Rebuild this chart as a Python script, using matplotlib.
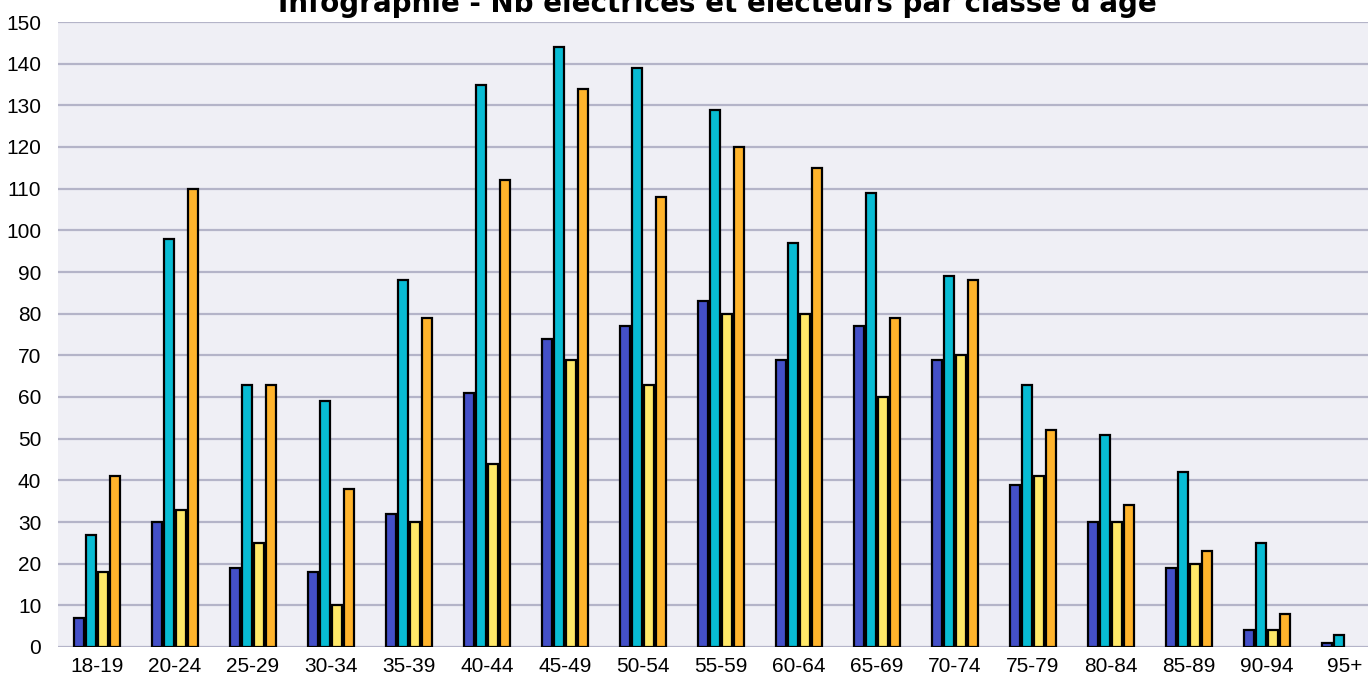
import matplotlib
matplotlib.use("Agg")
import matplotlib.pyplot as plt
import numpy as np

categories = ["18-19", "20-24", "25-29", "30-34", "35-39", "40-44", "45-49", "50-54",
              "55-59", "60-64", "65-69", "70-74", "75-79", "80-84", "85-89", "90-94", "95+"]
serie_bleu = [7, 30, 19, 18, 32, 61, 74, 77, 83, 69, 77, 69, 39, 30, 19, 4, 1]
serie_cyan = [27, 98, 63, 59, 88, 135, 144, 139, 129, 97, 109, 89, 63, 51, 42, 25, 3]
serie_jaune = [18, 33, 25, 10, 30, 44, 69, 63, 80, 80, 60, 70, 41, 30, 20, 4, 0]
serie_orange = [41, 110, 63, 38, 79, 112, 134, 108, 120, 115, 79, 88, 52, 34, 23, 8, 0]
yticks = list(range(0, 151, 10))
title = "Infographie - Nb électrices et électeurs par classe d'âge"

series = [serie_bleu, serie_cyan, serie_jaune, serie_orange]
colors = ["#4450C8", "#08BCD4", "#FFE868", "#FFB42C"]

W, H = 1368, 681
fig = plt.figure(figsize=(W / 100, H / 100), dpi=100)
left_px, right_px, bottom_px, top_px = 58, 1384, 647, 22
ax = fig.add_axes([left_px / W, (H - bottom_px) / H, (right_px - left_px) / W, (bottom_px - top_px) / H])
ax.set_facecolor("#EFEFF5")

x = np.arange(len(categories))
pitch = 0.154
width = 0.125
offsets = (np.arange(4) - 1.5) * pitch
for s, c, off in zip(series, colors, offsets):
    vals = np.array(s, dtype=float)
    lw = np.where(vals > 0, 1.6, 0.0)
    ax.bar(x + off, vals, width=width, color=c, edgecolor="black", linewidth=lw, zorder=3)

ax.set_xlim(-0.5, len(categories) - 0.5)
ax.set_ylim(0, 150)
ax.set_yticks(yticks)
ax.set_xticks(x)
ax.set_xticklabels(categories)
ax.tick_params(axis="both", length=0, labelsize=15, colors="black")
for lab in ax.get_xticklabels() + ax.get_yticklabels():
    lab.set_family("Liberation Sans")
ax.tick_params(axis="x", pad=7)
ax.tick_params(axis="y", pad=12)
ax.yaxis.grid(True, color="#B4B4C8", linewidth=1.6, zorder=0)
ax.set_axisbelow(True)
for sp in ax.spines.values():
    sp.set_visible(False)

fig.text(717 / W, 1 - 12 / H, title, ha="center", va="baseline",
         fontsize=20, fontweight="bold", color="black")

fig.savefig("out.png", dpi=100, facecolor="white")
